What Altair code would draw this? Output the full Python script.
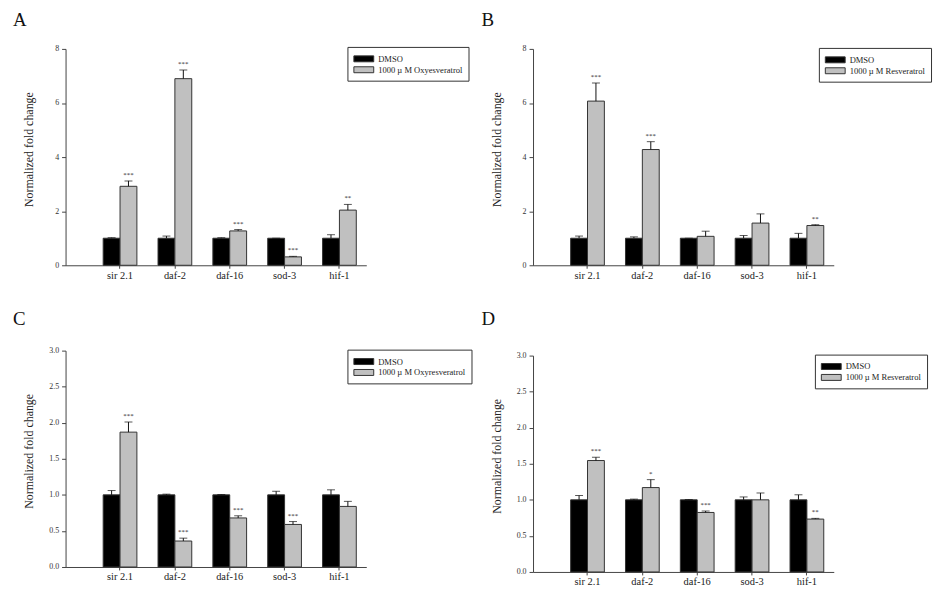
import altair as alt
import pandas as pd

SERIF = "Liberation Serif"

genes = ["sir 2.1", "daf-2", "daf-16", "sod-3", "hif-1"]
dmso_label = "DMSO"

# Panel A: Oxyresveratrol (8-scale)
A_dmso = [1.0, 1.0, 1.0, 1.0, 1.0]
A_dmso_err = [0.02, 0.08, 0.02, 0.0, 0.13]
A_trt = [2.92, 6.90, 1.27, 0.31, 2.04]
A_trt_err = [0.20, 0.32, 0.05, 0.02, 0.21]
A_stars = ["***", "***", "***", "***", "**"]
A_label = "1000 µ M Oxyesveratrol"

# Panel B: Resveratrol (8-scale)
B_dmso = [1.0, 1.0, 1.0, 1.0, 1.0]
B_dmso_err = [0.08, 0.05, 0.0, 0.10, 0.18]
B_trt = [6.07, 4.28, 1.07, 1.56, 1.47]
B_trt_err = [0.67, 0.29, 0.19, 0.34, 0.03]
B_stars = ["***", "***", "", "", "**"]
B_label = "1000 µ M Resveratrol"

# Panel C: Oxyresveratrol (3-scale)
C_dmso = [1.0, 1.0, 1.0, 1.0, 1.0]
C_dmso_err = [0.06, 0.01, 0.005, 0.05, 0.07]
C_trt = [1.87, 0.36, 0.68, 0.59, 0.84]
C_trt_err = [0.14, 0.04, 0.03, 0.04, 0.07]
C_stars = ["***", "***", "***", "***", ""]
C_label = "1000 µ M Oxyresveratrol"

# Panel D: Resveratrol (3-scale)
D_dmso = [1.0, 1.0, 1.0, 1.0, 1.0]
D_dmso_err = [0.06, 0.01, 0.005, 0.04, 0.07]
D_trt = [1.545, 1.17, 0.825, 1.00, 0.733]
D_trt_err = [0.045, 0.11, 0.02, 0.095, 0.01]
D_stars = ["***", "*", "***", "", "**"]
D_label = "1000 µ M Resveratrol"

ticks_8 = [0, 2, 4, 6, 8]
ticks_3 = [0.0, 0.5, 1.0, 1.5, 2.0, 2.5, 3.0]

W, H = 303, 218


def panel(letter, dmso, dmso_err, trt, trt_err, stars, trt_label, ymax, yvals, yfmt,
          t_dx, t_off, lx, ly):
    rows = []
    for i, g in enumerate(genes):
        rows.append(dict(gene=g, grp=dmso_label, value=dmso[i], err=dmso_err[i],
                         top=dmso[i] + dmso_err[i], star=""))
        rows.append(dict(gene=g, grp=trt_label, value=trt[i], err=trt_err[i],
                         top=trt[i] + trt_err[i], star=stars[i]))
    df = pd.DataFrame(rows)
    domain = [dmso_label, trt_label]
    xenc = alt.X("gene:N", sort=genes,
                 scale=alt.Scale(paddingInner=0.385, paddingOuter=0.434, align=0.79),
                 axis=alt.Axis(title=None, labelAngle=0, tickSize=3, labelFontSize=10.5,
                               labelFont=SERIF, labelColor="#222", domainColor="#444",
                               tickColor="#444", labelPadding=2, grid=False))
    xoff = alt.XOffset("grp:N", scale=alt.Scale(domain=domain, paddingInner=0, paddingOuter=0))
    yscale = alt.Scale(domain=[0, ymax], nice=False, zero=True)
    yaxis = alt.Axis(values=yvals, tickCount=len(yvals) + 2, format=yfmt, grid=False,
                     tickSize=4, labelPadding=3,
                     labelFontSize=8, labelFont=SERIF, labelColor="#333", labelOverlap=False,
                     domainColor="#444", tickColor="#444",
                     title="Normalized fold change", titleFont=SERIF, titleFontSize=12,
                     titleFontWeight="normal", titleColor="#222", titleX=-33, titleY=101,
                     titleBaseline="alphabetic", titleAngle=270)
    base = alt.Chart(df).encode(x=xenc, xOffset=xoff)
    bars = base.mark_bar(stroke="#333", strokeWidth=1).encode(
        y=alt.Y("value:Q", scale=yscale, axis=yaxis),
        color=alt.Color("grp:N", scale=alt.Scale(domain=domain, range=["#000000", "#c0c0c0"]),
                        legend=alt.Legend(title=None, orient="none", legendX=lx, legendY=ly,
                                          strokeColor="#333", fillColor="white", padding=6,
                                          symbolType="M-1.818,-0.545H1.818V0.545H-1.818Z",
                                          symbolSize=121, symbolOffset=4.5,
                                          symbolStrokeColor="#333", symbolStrokeWidth=1,
                                          labelFont=SERIF, labelFontSize=8.6, labelColor="#222",
                                          labelOffset=8.5, rowPadding=-0.5)),
    )
    errs = base.mark_rule(color="#111", strokeWidth=1).encode(
        y=alt.Y("value:Q", scale=yscale), y2="top:Q")
    caps = base.mark_tick(color="#111", size=8, thickness=1, orient="horizontal").encode(
        y=alt.Y("top:Q", scale=yscale))
    txt = base.mark_text(baseline="alphabetic", dy=-4, fontSize=7, font=SERIF, color="#222").encode(
        y=alt.Y("top:Q", scale=yscale), text="star:N")
    return alt.layer(bars, errs, caps, txt).properties(
        width=W, height=H,
        title=alt.TitleParams(letter, anchor="start", frame="group", dx=t_dx, offset=t_off,
                              fontSize=19, font=SERIF, fontWeight="normal", color="#111",
                              baseline="alphabetic"),
    )


pA = panel("A", A_dmso, A_dmso_err, A_trt, A_trt_err, A_stars, A_label, 8, ticks_8, "d",
           -53, 0.5, 284, -2)
pB = panel("B", B_dmso, B_dmso_err, B_trt, B_trt_err, B_stars, B_label, 8, ticks_8, "d",
           -52, 0.5, 288, -1)
pC = panel("C", C_dmso, C_dmso_err, C_trt, C_trt_err, C_stars, C_label, 3, ticks_3, ".1f",
           -53, 3, 284, -1)
pD = panel("D", D_dmso, D_dmso_err, D_trt, D_trt_err, D_stars, D_label, 3, ticks_3, ".1f",
           -52, 8, 284, -1)

left = alt.vconcat(pA, pC, spacing=86, bounds="flush").resolve_scale(
    color="independent", x="independent", y="independent", xOffset="independent").resolve_legend(color="independent")
right = alt.vconcat(pB, pD, spacing=91, bounds="flush").resolve_scale(
    color="independent", x="independent", y="independent", xOffset="independent").resolve_legend(color="independent")

chart = alt.hconcat(left, right, spacing=9).resolve_scale(
    color="independent", x="independent", y="independent", xOffset="independent").resolve_legend(
    color="independent").properties(
    padding={"left": 5, "top": 0, "right": 2, "bottom": 5}, background="white"
).configure_view(stroke=None)

chart.save("out.html", embed_options={"renderer": "svg", "actions": False})
